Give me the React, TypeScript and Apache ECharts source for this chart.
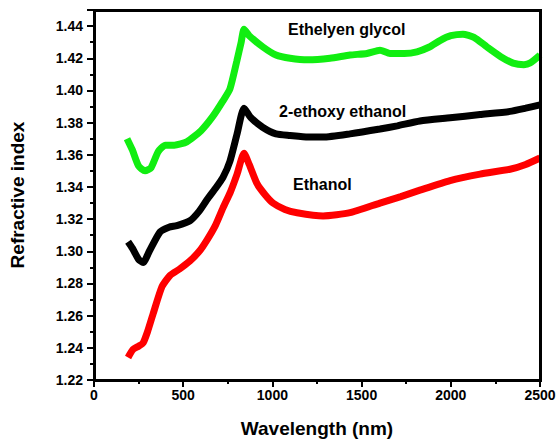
import React, { useEffect, useRef } from "react";
import * as echarts from "echarts";

const egWavelength = [185, 215, 250, 286, 320, 360, 400, 450, 520, 600, 667, 720, 762, 800, 825, 841, 870, 947, 1020, 1099, 1200, 1323, 1435, 1530, 1603, 1659, 1740, 1810, 1880, 1939, 2000, 2068, 2130, 2203, 2280, 2349, 2410, 2444, 2500];
const egIndex = [1.370, 1.363, 1.353, 1.350, 1.352, 1.362, 1.366, 1.366, 1.368, 1.375, 1.384, 1.393, 1.401, 1.418, 1.430, 1.438, 1.434, 1.427, 1.422, 1.420, 1.419, 1.420, 1.422, 1.423, 1.425, 1.423, 1.423, 1.424, 1.427, 1.431, 1.434, 1.435, 1.433, 1.427, 1.421, 1.417, 1.416, 1.417, 1.422];

const eeWavelength = [191, 215, 250, 275, 310, 370, 420, 465, 538, 590, 633, 680, 723, 762, 802, 841, 880, 947, 1020, 1099, 1200, 1284, 1435, 1603, 1700, 1827, 1996, 2164, 2332, 2420, 2500];
const eeIndex = [1.306, 1.302, 1.295, 1.293, 1.300, 1.312, 1.315, 1.316, 1.319, 1.325, 1.332, 1.339, 1.346, 1.356, 1.373, 1.389, 1.383, 1.377, 1.373, 1.372, 1.371, 1.371, 1.373, 1.376, 1.378, 1.381, 1.383, 1.385, 1.387, 1.389, 1.391];

const etWavelength = [191, 219, 250, 275, 300, 331, 381, 426, 480, 538, 590, 633, 680, 723, 765, 802, 841, 870, 914, 960, 1003, 1070, 1138, 1284, 1435, 1603, 1720, 1827, 1996, 2164, 2332, 2420, 2500];
const etIndex = [1.234, 1.239, 1.241, 1.243, 1.250, 1.261, 1.278, 1.285, 1.289, 1.294, 1.300, 1.307, 1.316, 1.327, 1.337, 1.348, 1.361, 1.354, 1.342, 1.335, 1.330, 1.326, 1.324, 1.322, 1.324, 1.330, 1.334, 1.338, 1.344, 1.348, 1.351, 1.354, 1.358];

const seriesNames = ["Ethanol", "2-ethoxy ethanol", "Ethelyen glycol"];
const seriesColors = ["#ff0000", "#000000", "#11ee11"];

const FONT = 'Arial, "Liberation Sans", sans-serif';

const GRID = { left: 94, right: 18, top: 10, bottom: 64 };
const W = 558;
const H = 444;

function zip(xs: number[], ys: number[]) {
  return xs.map((x, i) => [x, ys[i]]);
}

export default function App() {
  const ref = useRef<HTMLDivElement>(null);
  useEffect(() => {
    if (!ref.current) return;
    const chart = echarts.init(ref.current, null, { renderer: "svg" });
    const datasets = [zip(etWavelength, etIndex), zip(eeWavelength, eeIndex), zip(egWavelength, egIndex)];
    const x0 = GRID.left;
    const x1 = W - GRID.right;
    const y0 = GRID.top;
    const y1 = H - GRID.bottom;
    const frameRect = (x: number, y: number, w: number, h: number) => ({
      type: "rect",
      silent: true,
      z: 100,
      shape: { x, y, width: w, height: h },
      style: { fill: "#000000" },
    });
    chart.setOption({
      animation: false,
      backgroundColor: "#ffffff",
      grid: {
        ...GRID,
        outerBoundsMode: "none",
        containLabel: false,
      },
      xAxis: {
        type: "value",
        min: 0,
        max: 2500,
        interval: 500,
        name: "Wavelength (nm)",
        nameLocation: "middle",
        nameGap: 39,
        nameTextStyle: { fontFamily: FONT, fontWeight: "bold", fontSize: 19, color: "#000" },
        axisLine: { show: true, onZero: false, lineStyle: { color: "#000", width: 2 } },
        axisTick: { show: true, inside: false, length: 7, lineStyle: { color: "#000", width: 2 } },
        minorTick: { show: true, splitNumber: 2, length: 4, lineStyle: { color: "#000", width: 2 } },
        splitLine: { show: false },
        axisLabel: {
          fontFamily: FONT,
          fontWeight: "bold",
          fontSize: 14,
          color: "#000",
          margin: 8,
          formatter: (v: number) => String(v),
        },
      },
      yAxis: {
        type: "value",
        min: 1.22,
        max: 1.45,
        interval: 0.02,
        name: "Refractive index",
        nameLocation: "middle",
        nameGap: 67,
        nameTextStyle: { fontFamily: FONT, fontWeight: "bold", fontSize: 19, color: "#000" },
        axisLine: { show: true, onZero: false, lineStyle: { color: "#000", width: 2 } },
        axisTick: { show: true, inside: false, length: 7, lineStyle: { color: "#000", width: 2 } },
        minorTick: { show: true, splitNumber: 2, length: 4, lineStyle: { color: "#000", width: 2 } },
        splitLine: { show: false },
        axisLabel: {
          fontFamily: FONT,
          fontWeight: "bold",
          fontSize: 14,
          color: "#000",
          margin: 11,
          showMaxLabel: false,
          formatter: (v: number) => v.toFixed(2),
        },
      },
      series: datasets.map((d, i) => ({
        type: "line",
        name: seriesNames[i],
        data: d,
        showSymbol: false,
        smooth: 0.2,
        lineStyle: { color: seriesColors[i], width: 7 },
        itemStyle: { color: seriesColors[i] },
      })),
      graphic: [
        frameRect(x0 - 1, y0 - 1, x1 - x0 + 2, 3),
        frameRect(x0 - 1, y1 - 1, x1 - x0 + 2, 3),
        frameRect(x0 - 1, y0 - 1, 3, y1 - y0 + 3),
        frameRect(x1 - 1, y0 - 1, 3, y1 - y0 + 3),
        { type: "text", left: 288, top: 21, style: { text: seriesNames[2], font: `bold 16px ${FONT}`, fill: "#000" } },
        { type: "text", left: 279, top: 103, style: { text: seriesNames[1], font: `bold 16px ${FONT}`, fill: "#000" } },
        { type: "text", left: 293, top: 176, style: { text: seriesNames[0], font: `bold 16px ${FONT}`, fill: "#000" } },
      ],
    });
    return () => chart.dispose();
  }, []);
  return <div ref={ref} style={{ position: "absolute", left: 0, top: 0, width: W, height: H }} />;
}
